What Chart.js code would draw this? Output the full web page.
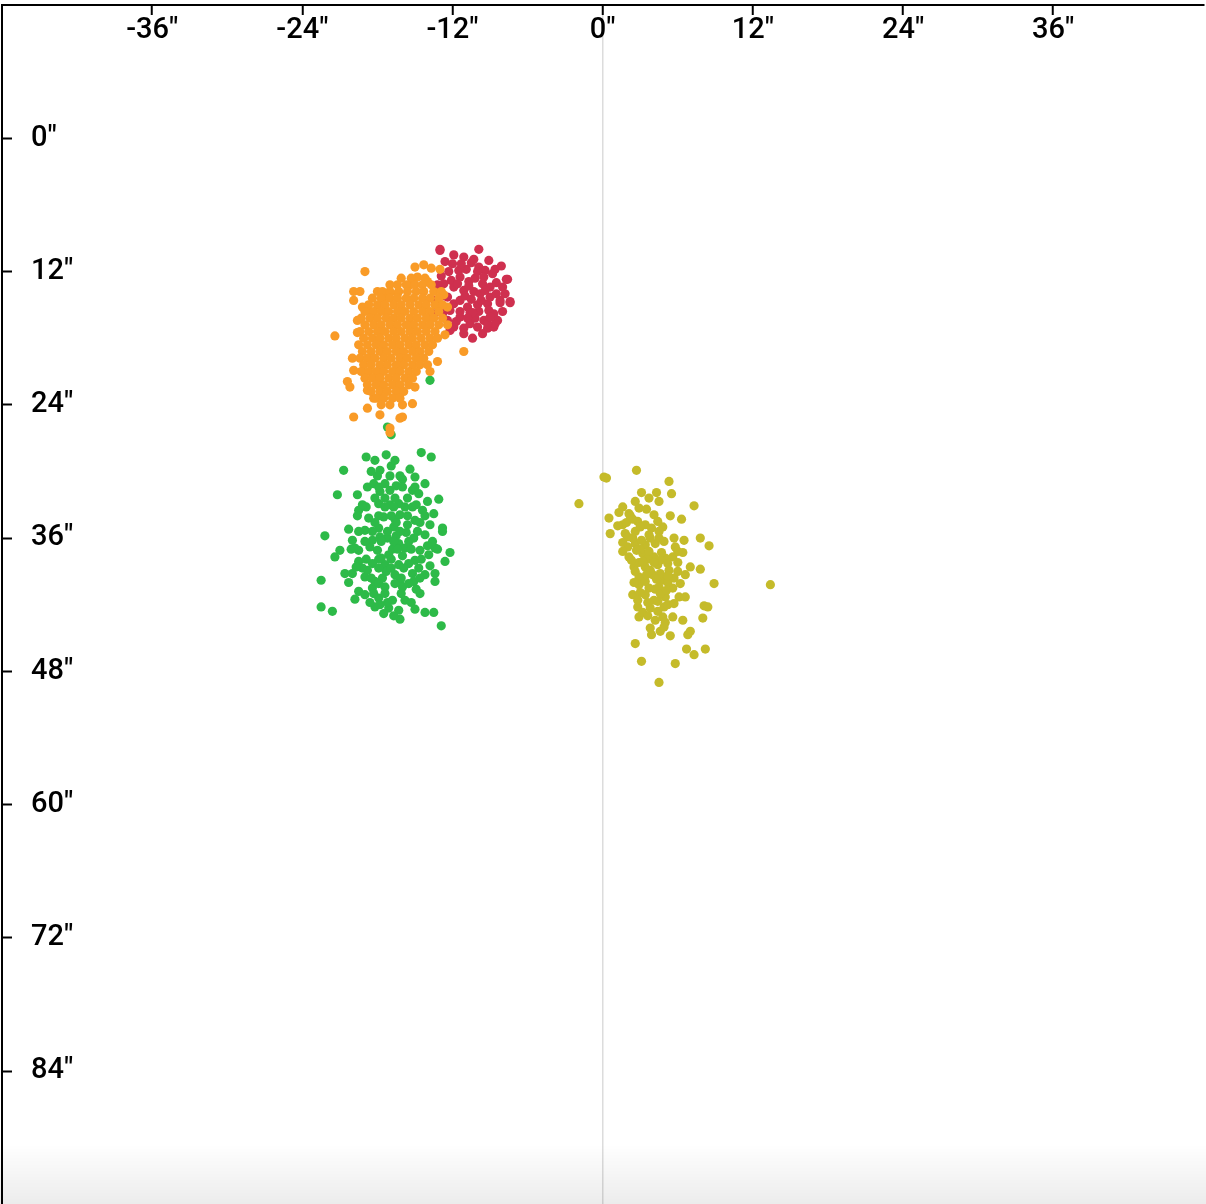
<!DOCTYPE html>
<html>
<head>
<meta charset="utf-8">
<script src="https://cdn.jsdelivr.net/npm/chart.js@4.4.1/dist/chart.umd.min.js"></script>
<style>
html,body{margin:0;padding:0;background:#fff;overflow:hidden;}
#wrap{position:absolute;left:0;top:0;width:1206px;height:1204px;overflow:hidden;}
#box{position:absolute;left:0;top:0;width:1206px;height:1204px;}
#fade{position:absolute;left:0;right:0;bottom:0;height:60px;pointer-events:none;
  background:linear-gradient(rgba(0,0,0,0),rgba(0,0,0,0.075));}
</style>
</head>
<body>
<div id="wrap"><div id="box"><canvas id="chart"></canvas></div><div id="fade"></div></div>
<script>
// axis ticks (arc seconds)
const xTicks = [-36,-24,-12,0,12,24,36];
const yTicks = [0,12,24,36,48,60,72,84];

// -------- point clouds [x, y] --------
const orangePts = [
  [-19.0,12.0],[-15.0,11.6],[-14.3,11.4],[-13.7,11.7],[-13.0,11.8],[-14.8,12.5],[-19.9,13.8],[-19.4,13.8],
  [-18.0,13.8],[-19.9,14.6],[-17.5,14.3],[-16.4,14.0],[-15.4,13.2],[-14.0,12.9],[-19.2,15.2],[-18.6,15.6],
  [-19.6,16.4],[-21.4,17.8],[-19.6,17.5],[-20.0,19.8],[-19.9,20.9],[-20.4,21.9],[-20.2,22.4],[-18.8,22.7],
  [-18.3,23.4],[-18.8,24.3],[-19.9,25.1],[-17.8,24.9],[-16.0,25.1],[-16.0,24.0],[-15.2,23.9],[-17.0,26.1],
  [-15.0,22.4],[-13.8,21.0],[-13.2,20.1],[-11.1,19.2],[-12.6,17.7],[-12.4,16.8],[-12.4,15.2],[-12.7,14.1],
  [-17.0,26.5],[-16.2,25.2],
  [-16.1,12.6],[-15.3,12.6],[-14.2,12.6],
  [-17.0,13.2],[-16.4,13.2],[-15.7,13.2],[-15.0,13.2],[-14.4,13.2],[-13.7,13.2],
  [-17.6,13.8],[-17.0,13.8],[-16.3,13.8],[-15.6,13.8],[-14.9,13.8],[-14.3,13.8],[-13.5,13.8],[-12.9,13.8],
  [-18.4,14.4],[-17.7,14.4],[-17.0,14.4],[-16.4,14.4],[-15.7,14.4],[-15.1,14.4],[-14.4,14.4],[-13.8,14.4],[-13.1,14.4],
  [-18.7,15.0],[-18.0,15.0],[-17.4,15.0],[-16.7,15.0],[-16.1,15.0],[-15.4,15.0],[-14.7,15.0],[-14.1,15.0],[-13.4,15.0],[-12.8,15.0],
  [-19.0,15.6],[-18.3,15.6],[-17.7,15.6],[-17.1,15.6],[-16.4,15.6],[-15.8,15.6],[-15.1,15.6],[-14.4,15.6],[-13.8,15.6],[-13.1,15.6],
  [-19.3,16.2],[-18.6,16.2],[-18.0,16.2],[-17.3,16.2],[-16.7,16.2],[-16.1,16.2],[-15.4,16.2],[-14.8,16.2],[-14.1,16.2],[-13.5,16.2],[-12.8,16.2],
  [-19.0,16.8],[-18.3,16.8],[-17.7,16.8],[-17.0,16.8],[-16.4,16.8],[-15.7,16.8],[-15.1,16.8],[-14.4,16.8],[-13.8,16.8],[-13.1,16.8],
  [-19.4,17.4],[-18.7,17.4],[-18.0,17.4],[-17.4,17.4],[-16.7,17.4],[-16.1,17.4],[-15.4,17.4],[-14.8,17.4],[-14.1,17.4],[-13.4,17.4],
  [-19.1,18.0],[-18.4,18.0],[-17.8,18.0],[-17.1,18.0],[-16.5,18.0],[-15.8,18.0],[-15.2,18.0],[-14.5,18.0],[-13.8,18.0],[-13.2,18.0],
  [-19.5,18.6],[-18.8,18.6],[-18.1,18.6],[-17.5,18.6],[-16.8,18.6],[-16.2,18.6],[-15.5,18.6],[-14.9,18.6],[-14.2,18.6],[-13.6,18.6],
  [-19.2,19.2],[-18.5,19.2],[-17.8,19.2],[-17.2,19.2],[-16.5,19.2],[-15.9,19.2],[-15.2,19.2],[-14.6,19.2],[-13.9,19.2],
  [-19.4,19.8],[-18.8,19.8],[-18.2,19.8],[-17.5,19.8],[-16.9,19.8],[-16.2,19.8],[-15.6,19.8],[-14.9,19.8],[-14.3,19.8],
  [-19.1,20.4],[-18.5,20.4],[-17.8,20.4],[-17.2,20.4],[-16.5,20.4],[-15.9,20.4],[-15.2,20.4],[-14.6,20.4],[-14.0,20.4],
  [-19.3,21.0],[-18.7,21.0],[-18.1,21.0],[-17.5,21.0],[-16.8,21.0],[-16.2,21.0],[-15.5,21.0],[-14.9,21.0],
  [-19.0,21.6],[-18.4,21.6],[-17.8,21.6],[-17.1,21.6],[-16.5,21.6],[-15.8,21.6],[-15.2,21.6],
  [-18.8,22.2],[-18.1,22.2],[-17.5,22.2],[-16.8,22.2],[-16.2,22.2],[-15.5,22.2],
  [-18.5,22.8],[-17.8,22.8],[-17.2,22.8],[-16.5,22.8],[-15.9,22.8],
  [-18.1,23.4],[-17.5,23.4],[-16.8,23.4],[-16.2,23.4],
  [-17.7,24.0],[-17.0,24.0]
];

const redPts = [
  [-13.0,10.0],[-9.9,10.0],[-11.9,10.5],[-11.1,10.7],[-12.6,11.1],[-12.0,11.3],[-10.9,11.8],[-9.9,11.6],
  [-9.4,11.9],[-8.1,11.5],[-7.6,12.7],[-11.4,12.5],[-10.7,12.9],[-10.2,12.6],[-9.6,13.1],[-9.0,13.4],
  [-11.1,13.7],[-10.3,13.8],[-11.9,13.4],[-12.7,13.1],[-13.2,13.2],[-13.4,14.6],[-13.0,15.2],[-12.4,14.3],
  [-11.9,14.9],[-11.4,14.6],[-10.8,15.2],[-10.0,15.0],[-9.2,14.9],[-9.0,14.3],[-8.2,14.6],[-7.4,14.7],
  [-8.7,15.8],[-9.5,16.4],[-10.0,17.0],[-10.6,16.7],[-11.4,16.1],[-11.9,17.0],[-12.4,16.4],[-12.2,17.3],
  [-11.1,17.1],[-9.2,17.1],[-8.4,16.4],[-8.7,17.0],
  [-7.7,12.7],[-7.4,14.8],[-8.2,14.8],[-8.6,16.7],[-9.2,16.7],[-10.4,18.0],[-11.1,17.6],[-13.0,10.1],
  [-11.5,11.9],[-10.5,11.2],[-10.0,12.0],[-9.5,12.5],[-8.8,12.2],[-8.5,13.0],[-11.0,14.2],[-10.5,14.5],
  [-9.8,14.0],[-9.4,13.7],[-8.5,14.0],[-12.2,15.5],[-11.4,15.6],[-10.6,15.7],[-9.9,15.6],[-9.1,15.5],
  [-8.0,15.6],[-12.8,15.8],[-10.7,13.3],[-12.3,12.0],[-10.2,16.2],[-9.0,16.1],
  [-12.9,12.4],[-12.1,12.8],[-11.6,13.1],[-11.3,11.3],[-10.3,10.9],[-9.1,11.0],[-8.6,11.8],[-8.0,13.4],
  [-7.8,14.0],[-9.7,14.6],[-10.4,15.7],[-11.7,16.5],[-12.8,14.2],[-13.5,15.8],[-10.8,16.2],[-9.6,17.6]
];

const greenPts = [
  [-14.5,28.3],[-13.7,28.7],[-18.9,28.7],[-17.3,28.5],[-18.2,29.0],[-20.7,29.9],[-16.9,29.5],[-15.4,29.8],
  [-17.8,29.9],[-16.0,30.7],[-18.3,31.1],[-17.4,31.1],[-15.2,31.7],[-14.2,31.1],[-21.2,32.1],[-19.6,32.1],
  [-17.0,31.7],[-14.7,32.0],[-13.1,32.5],[-14.0,32.7],[-19.5,33.5],[-17.9,32.9],[-16.3,32.9],[-14.4,33.5],
  [-18.7,34.2],[-17.5,34.1],[-16.2,33.9],[-15.0,34.4],[-13.8,34.8],[-12.8,35.1],[-20.3,35.2],[-19.0,35.3],
  [-17.9,35.1],[-16.7,35.0],[-15.6,34.8],[-22.2,35.8],[-15.1,36.0],[-14.2,35.7],[-12.8,35.4],[-20.0,36.2],
  [-18.4,36.2],[-17.2,36.0],[-16.3,36.5],[-21.0,37.1],[-21.4,37.7],[-19.5,37.1],[-18.0,37.1],[-17.1,37.5],
  [-15.8,36.9],[-14.6,37.1],[-13.4,36.9],[-12.2,37.3],[-15.0,38.0],[-13.9,37.5],[-12.6,38.1],[-19.5,38.1],
  [-18.4,38.3],[-17.4,38.4],[-16.3,38.4],[-15.5,38.3],[-20.0,39.2],[-20.3,40.0],[-19.0,39.5],[-17.6,39.6],
  [-16.6,39.3],[-15.2,39.2],[-14.2,39.3],[-13.4,39.2],[-22.5,39.8],[-19.5,40.8],[-18.4,40.5],[-17.4,40.4],
  [-16.0,40.4],[-13.4,39.9],[-15.1,39.9],[-19.0,41.1],[-17.9,41.4],[-16.8,41.6],[-15.8,41.6],[-14.6,41.0],
  [-22.5,42.2],[-21.6,42.6],[-18.2,42.2],[-17.1,42.3],[-16.3,42.5],[-17.5,42.8],[-16.2,43.3],[-14.2,42.7],
  [-13.5,42.7],[-12.9,43.9],
  [-17.0,33.0],[-16.6,34.3],[-17.8,35.9],[-16.5,35.8],[-16.8,37.0],[-17.7,37.8],[-16.0,37.6],[-18.6,36.8],
  [-17.3,39.0],[-16.2,39.9],[-18.2,39.9],[-17.8,31.8],[-16.5,31.3],[-15.8,33.2],[-18.8,38.9],[-15.7,35.5],
  [-18.0,30.4],[-17.0,30.4],[-16.2,30.4],[-18.8,31.4],[-17.9,31.4],[-16.0,31.4],[-15.0,31.4],
  [-18.2,32.4],[-17.4,32.4],[-16.6,32.4],[-15.6,32.4],[-18.9,33.2],[-17.4,33.2],[-16.7,33.2],[-15.2,33.2],
  [-19.6,34.0],[-17.9,34.0],[-16.9,34.0],[-15.6,34.0],[-14.2,34.0],[-18.2,34.6],[-16.5,34.6],[-14.6,34.6],
  [-19.5,35.4],[-18.4,35.4],[-17.2,35.4],[-16.2,35.4],[-14.8,35.4],[-19.0,36.3],[-17.7,36.3],[-16.7,36.3],
  [-15.5,36.3],[-13.6,36.3],[-20.1,37.0],[-16.4,37.0],[-15.3,37.0],[-13.2,37.0],[-18.9,37.9],[-17.9,37.9],
  [-16.9,37.9],[-14.5,37.9],[-19.2,38.7],[-17.9,38.7],[-16.9,38.7],[-15.9,38.7],[-14.7,38.7],[-18.5,39.6],
  [-16.1,39.6],[-14.6,39.6],[-17.9,40.1],[-16.6,40.1],[-15.5,40.1],[-18.3,41.0],[-17.4,41.0],[-16.1,41.0],
  [-18.6,41.8],[-17.2,41.8],[-15.3,41.8],
  [-18.5,30.0],[-16.6,29.0],[-15.0,30.5],[-19.2,33.0],[-14.9,33.0],[-13.5,33.8],[-19.8,36.9],[-14.0,36.7],
  [-19.7,38.6],[-13.8,38.5],[-20.6,39.2],[-14.9,40.6],[-19.8,41.5],[-17.8,42.0],[-15.0,42.4],[-16.7,43.0],
  [-13.8,21.8],[-17.2,26.0],[-16.9,26.7]
];

const olivePts = [
  [2.7,29.9],[0.1,30.5],[0.3,30.6],[5.3,30.9],[-1.9,32.9],[5.5,32.0],[3.1,31.9],[4.3,31.9],
  [2.6,32.7],[3.7,32.4],[4.5,32.7],[7.3,33.1],[1.3,33.7],[2.1,33.8],[0.5,34.2],[5.4,34.0],
  [6.3,34.3],[1.6,34.8],[2.8,34.5],[3.4,34.8],[4.1,33.9],[4.8,35.0],[0.6,35.6],[1.8,35.6],
  [2.6,35.4],[3.7,35.7],[4.5,35.4],[7.8,36.0],[8.5,36.7],[6.5,36.2],[5.8,36.8],[6.4,37.3],
  [2.6,36.5],[3.4,36.6],[4.2,36.5],[4.9,36.3],[2.1,37.7],[3.2,37.4],[4.1,37.7],[5.0,37.8],
  [5.6,37.7],[2.5,38.6],[3.4,38.6],[4.4,38.4],[5.3,38.9],[7.0,38.6],[7.8,38.8],[6.6,39.3],
  [2.9,39.5],[4.0,39.3],[4.8,39.8],[5.7,39.6],[8.9,40.1],[13.4,40.2],[2.9,40.2],[4.5,40.4],
  [5.6,40.5],[2.4,41.1],[3.4,41.1],[4.1,41.6],[5.0,41.3],[6.1,41.3],[6.6,41.3],[8.1,42.1],
  [8.4,42.2],[2.8,42.2],[3.8,42.3],[4.9,42.2],[2.9,43.1],[4.8,43.1],[6.4,43.4],[8.0,43.2],
  [3.8,44.1],[4.6,44.4],[5.4,44.8],[7.0,44.4],[6.8,44.7],[2.6,45.5],[6.7,46.0],[7.3,46.5],
  [8.2,46.0],[3.1,47.1],[5.8,47.3],[4.5,49.0],
  [2.2,34.0],[3.0,35.0],[2.4,36.0],[3.8,36.0],[2.0,36.8],[3.0,37.0],[3.6,37.9],[4.6,38.0],
  [2.9,38.2],[3.8,38.9],[4.6,39.2],[3.4,39.9],[4.2,40.6],[3.0,40.9],[4.6,41.0],[3.6,41.8],
  [4.4,42.6],[5.2,42.0],[3.2,42.7],[4.2,43.4],[5.0,43.6],[1.6,33.2],[2.9,33.3],[3.5,33.4],
  [1.9,34.6],[4.4,34.5],[5.7,36.0],[6.0,38.2],[6.0,39.0],[5.2,40.0],[6.2,40.1],
  [1.2,34.9],[2.4,34.3],[3.9,35.1],[2.0,35.9],[3.1,36.2],[4.5,36.0],[1.6,36.4],[2.7,37.1],
  [3.7,37.2],[4.7,37.3],[2.3,38.0],[3.2,38.1],[4.1,38.2],[5.2,38.3],[2.6,39.0],[3.5,39.3],
  [4.3,39.7],[5.2,39.4],[2.5,40.0],[3.7,40.5],[5.1,40.7],[2.8,41.6],[4.4,41.7],[5.7,41.9],
  [3.6,43.0],[5.6,43.1],[4.9,44.0],[3.9,44.7],[1.6,37.2],[6.0,37.2]
];

const series = [
  {name:'orange', pts:orangePts, color:'#f99b27'},
  {name:'red',    pts:redPts,    color:'#cf304f'},
  {name:'green',  pts:greenPts,  color:'#2dba48'},
  {name:'olive',  pts:olivePts,  color:'#c5bb2a'}
];

// where the outer ticks sit on the page (px)
const frame = {x0:152, x1:1053, y0:138, y1:1071};

const tickFont = {family:'Roboto', size:29, weight:'500'};

const chart = new Chart(document.getElementById('chart'), {
  type:'scatter',
  data:{
    datasets: series.map(s=>({
      label:s.name,
      data:s.pts.map(p=>({x:p[0], y:p[1]})),
      backgroundColor:s.color,
      borderWidth:0,
      pointRadius:4.6,
      pointHoverRadius:4.6
    }))
  },
  options:{
    responsive:true,
    maintainAspectRatio:false,
    animation:false,
    events:[],
    layout:{padding:0},
    plugins:{legend:{display:false}, tooltip:{enabled:false}},
    scales:{
      x:{
        type:'linear', position:'top', min:-48, max:48,
        afterBuildTicks: s => { s.ticks = xTicks.map(v=>({value:v})); },
        afterFit: s => { s.paddingLeft = 0; s.paddingRight = 0; },
        ticks:{mirror:true, padding:8, color:'#000', font:tickFont, maxRotation:0, autoSkip:false,
               callback: v => v + '"'},
        grid:{color: c => (c.tick && c.tick.value === 0) ? '#dcdcdc' : 'rgba(0,0,0,0)',
              lineWidth:1.5, tickColor:'#000', tickWidth:2, tickLength:-10},
        border:{display:true, color:'#000', width:2}
      },
      y:{
        type:'linear', position:'left', reverse:true, min:-12, max:96,
        afterBuildTicks: s => { s.ticks = yTicks.map(v=>({value:v})); },
        afterFit: s => { s.paddingTop = 0; s.paddingBottom = 0; },
        ticks:{mirror:true, padding:29, color:'#000', font:tickFont, autoSkip:false,
               callback: v => v + '"'},
        grid:{drawOnChartArea:false, tickColor:'#000', tickWidth:2, tickLength:-10},
        border:{display:true, color:'#000', width:2}
      }
    }
  }
});

// size and shift the canvas box so the scales land where the reference has them
function placeBox(){
  const box = document.getElementById('box');
  const sx = chart.scales.x, sy = chart.scales.y;
  const nx = xTicks.length - 1, ny = yTicks.length - 1;
  let ax = sx.getPixelForValue(xTicks[0]), bx = sx.getPixelForValue(xTicks[nx]);
  let ay = sy.getPixelForValue(yTicks[0]), by = sy.getPixelForValue(yTicks[ny]);
  const w = box.offsetWidth + ((frame.x1 - frame.x0) - (bx - ax)) * (sx.max - sx.min) / (xTicks[nx] - xTicks[0]);
  const h = box.offsetHeight + ((frame.y1 - frame.y0) - (by - ay)) * (sy.max - sy.min) / (yTicks[ny] - yTicks[0]);
  box.style.width = Math.round(w) + 'px';
  box.style.height = Math.round(h) + 'px';
  chart.resize();
  ax = sx.getPixelForValue(xTicks[0]);
  ay = sy.getPixelForValue(yTicks[0]);
  box.style.left = Math.round(frame.x0 - ax) + 'px';
  box.style.top = Math.round(frame.y0 - ay) + 'px';
}
placeBox();
placeBox();
placeBox();
</script>
</body>
</html>
